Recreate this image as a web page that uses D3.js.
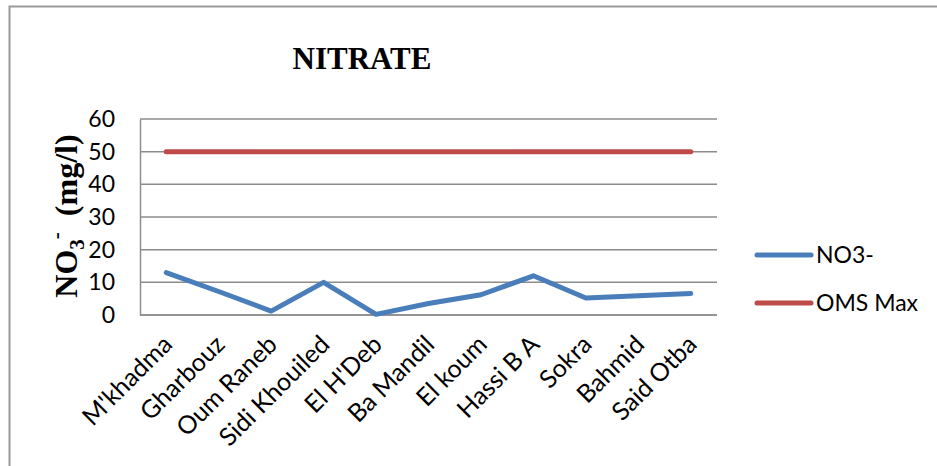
<!DOCTYPE html>
<html>
<head>
<meta charset="utf-8">
<script src="https://cdn.jsdelivr.net/npm/d3@7"></script>
<style>
  html, body { margin: 0; padding: 0; background: #fff; }
  svg { display: block; }
</style>
</head>
<body>
<svg id="chart" width="937" height="466"></svg>
<script>
// Sampling sites along the x axis
const sites = ["M'khadma", "Gharbouz", "Oum Raneb", "Sidi Khouiled", "El H'Deb",
  "Ba Mandil", "El koum", "Hassi B A", "Sokra", "Bahmid", "Said Otba"];
// Measured nitrate concentration (mg/l) at each site
const no3Values = [13, 7.2, 1.2, 10, 0.2, 3.5, 6.2, 12, 5.2, 5.9, 6.6];
// WHO (OMS) maximum admissible value
const omsMaxValues = [50, 50, 50, 50, 50, 50, 50, 50, 50, 50, 50];
// Value axis ticks
const yTicks = [0, 10, 20, 30, 40, 50, 60];
const seriesNames = ["NO3-", "OMS Max"];
const seriesColors = ["#4A7EBB", "#BE4B48"];

const svg = d3.select("#chart");
const labelFont = "Lato, 'Open Sans', sans-serif";

// Frame around the chart area
svg.append("rect")
  .attr("x", 9.5).attr("y", 6.5)
  .attr("width", 1000).attr("height", 1000)
  .attr("fill", "none")
  .attr("stroke", "#9a9a9a")
  .attr("stroke-width", 2);

const plot = { left: 140, right: 717, top: 119, bottom: 315 };

const x = d3.scalePoint()
  .domain(sites)
  .range([plot.left, plot.right])
  .padding(0.5);

const y = d3.scaleLinear()
  .domain([0, 60])
  .range([plot.bottom, plot.top]);

// Horizontal gridlines
svg.append("g")
  .selectAll("line")
  .data(yTicks)
  .join("line")
  .attr("x1", plot.left).attr("x2", plot.right)
  .attr("y1", d => y(d)).attr("y2", d => y(d))
  .attr("stroke", "#8c8c8c")
  .attr("stroke-width", 1.5);

// Value axis
const yAxis = svg.append("g")
  .attr("transform", `translate(${plot.left},0)`)
  .call(d3.axisLeft(y).tickValues(yTicks).tickSize(0).tickPadding(25));
yAxis.select(".domain").attr("stroke", "#8c8c8c").attr("stroke-width", 1.5);
yAxis.selectAll("text")
  .attr("font-family", labelFont)
  .attr("font-size", 23)
  .attr("fill", "#000");

// Category axis
const xAxis = svg.append("g")
  .attr("transform", `translate(0,${plot.bottom})`)
  .call(d3.axisBottom(x).tickSize(0).tickPadding(0));
xAxis.select(".domain")
  .attr("d", `M${plot.left},0H${plot.right}`)
  .attr("stroke", "#8c8c8c").attr("stroke-width", 1.5);
xAxis.selectAll("text")
  .attr("font-family", labelFont)
  .attr("font-size", 25)
  .attr("fill", "#000")
  .attr("text-anchor", "end")
  .attr("dy", 0)
  .attr("transform", "translate(7,31) rotate(-45)");

// Series lines
const line = d3.line()
  .x((d, i) => x(sites[i]))
  .y(d => y(d));

[no3Values, omsMaxValues].forEach((vals, k) => {
  svg.append("path")
    .datum(vals)
    .attr("d", line)
    .attr("fill", "none")
    .attr("stroke", seriesColors[k])
    .attr("stroke-width", 5)
    .attr("stroke-linejoin", "round")
    .attr("stroke-linecap", "round");
});

// Title
svg.append("text")
  .attr("x", 362).attr("y", 69)
  .attr("text-anchor", "middle")
  .attr("font-family", "'Liberation Serif', 'Times New Roman', serif")
  .attr("font-weight", "bold")
  .attr("font-size", 31)
  .text("NITRATE");

// Y axis title: NO3- (mg/l)
const yt = svg.append("text")
  .attr("transform", "translate(77,216) rotate(-90)")
  .attr("text-anchor", "middle")
  .attr("font-family", "'Liberation Serif', 'Times New Roman', serif")
  .attr("font-weight", "bold")
  .attr("font-size", 32);
yt.append("tspan").text("NO");
yt.append("tspan").attr("font-size", 21).attr("dy", 7).text("3");
yt.append("tspan").attr("font-size", 21).attr("dy", -21).text("-");
yt.append("tspan").attr("dy", 14).attr("dx", 16).text("(mg/l)");

// Legend
const legend = svg.append("g");
const legendY = [255, 303];
seriesNames.forEach((name, k) => {
  legend.append("line")
    .attr("x1", 757).attr("x2", 811)
    .attr("y1", legendY[k]).attr("y2", legendY[k])
    .attr("stroke", seriesColors[k])
    .attr("stroke-width", 5)
    .attr("stroke-linecap", "round");
  legend.append("text")
    .attr("x", 816).attr("y", legendY[k])
    .attr("dy", "0.35em")
    .attr("font-family", labelFont)
    .attr("font-size", 23)
    .attr("fill", "#000")
    .text(name);
});
</script>
</body>
</html>
